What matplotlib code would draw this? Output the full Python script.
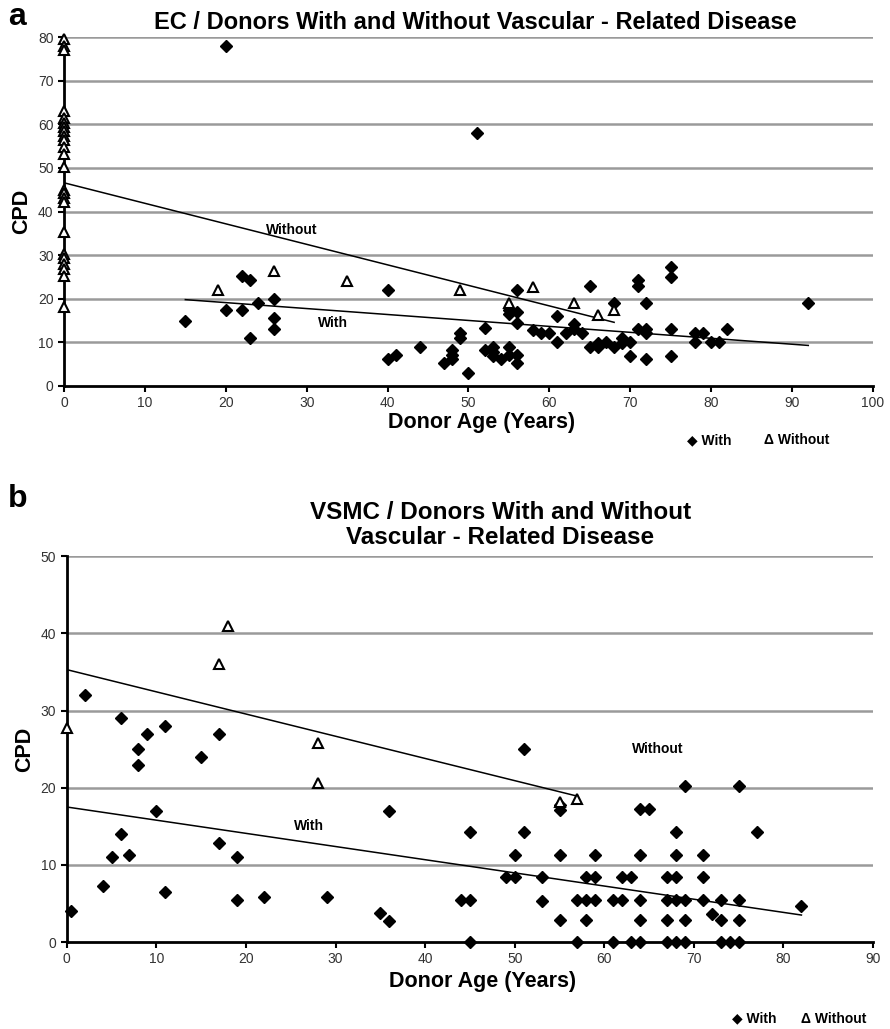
import matplotlib.pyplot as plt

plt.rcParams['font.family'] = ['Liberation Sans', 'DejaVu Sans']

# --- EC cells: donors with vascular-related disease ---
ec_with_age = [15, 20, 20, 22, 22, 23, 23, 24, 26, 26, 26,
               40, 40, 41, 44, 47, 48, 48, 48, 49, 49, 50, 51, 52, 52,
               53, 53, 53, 54, 55, 55, 55, 55, 56, 56, 56, 56, 56,
               58, 59, 60, 61, 61, 62, 63, 63, 64, 65, 65, 66, 66, 67,
               68, 68, 69, 69, 70, 70, 71, 71, 71, 72, 72, 72, 72,
               75, 75, 75, 75, 78, 78, 79, 80, 81, 82, 92]
ec_with_cpd = [15, 78, 17.4, 25.2, 17.4, 24.2, 11, 19, 19.9, 15.7, 13,
               22, 6.1, 7, 9, 5.2, 8.3, 7.1, 6.1, 12.1, 10.9, 3, 58, 13.3, 8.2,
               9, 7.9, 6.8, 6.1, 17.4, 16.6, 9, 7.1, 22, 17, 14.5, 7.1, 5.2,
               12.8, 12.1, 12.1, 16, 10, 12.1, 14.3, 13.1, 12.1, 23, 9, 9.8, 9, 10,
               19, 9, 11, 9.9, 10, 6.9, 24.4, 23, 13, 19, 13, 12.1, 6.1,
               27.2, 25.1, 13, 6.9, 12.2, 10, 12.2, 10, 10, 13, 19]

# --- EC cells: donors without vascular-related disease ---
ec_without_age = [0, 0, 0, 0, 0, 0, 0, 0, 0, 0, 0, 0,
                  0, 0, 0, 0, 0, 0, 0, 0, 0, 0, 0, 0,
                  19, 26, 35, 49, 55, 58, 63, 66, 68]
ec_without_cpd = [79.5, 78, 77, 63, 61.5, 60.2, 59.5, 58.5, 57.4, 56.3, 54.8, 53.3,
                  50.2, 45, 44.2, 43.2, 42.1, 35.2, 30.2, 29.4, 27.9, 26.9, 25.2, 18.2,
                  22, 26.3, 24.1, 21.9, 19, 22.6, 19.1, 16.3, 17.5]

# trend lines (end points)
ec_fit_with_age = [15, 92]
ec_fit_with_cpd = [19.8, 9.3]
ec_fit_without_age = [0, 68]
ec_fit_without_cpd = [46.6, 14.6]

# --- VSMC: donors with vascular-related disease ---
vsmc_with_age = [0.5, 2, 4, 5, 6, 6, 7, 8, 8, 9, 10, 11, 11, 15, 17, 17, 19, 19, 22,
                 29, 35, 36, 36, 44, 45, 45, 45, 49, 50, 50, 51, 51, 53, 53,
                 55, 55, 55, 55, 57, 57, 58, 58, 58, 59, 59, 59, 61, 61,
                 62, 62, 63, 63, 64, 64, 64, 64, 64, 65, 67, 67, 67, 67,
                 68, 68, 68, 68, 68, 69, 69, 69, 69, 71, 71, 71, 72,
                 73, 73, 73, 74, 75, 75, 75, 75, 77, 82]
vsmc_with_cpd = [4, 32, 7.3, 11, 29, 14, 11.3, 25, 23, 27, 17, 28, 6.5, 24, 27, 12.8, 11, 5.5, 5.8,
                 5.8, 3.8, 17, 2.7, 5.4, 5.4, 14.2, 0, 8.4, 11.3, 8.4, 25, 14.2, 8.4, 5.3,
                 17.7, 17.1, 11.3, 2.8, 5.4, 0, 8.4, 5.4, 2.8, 11.3, 8.4, 5.4, 5.4, 0,
                 8.4, 5.4, 8.4, 0, 17.2, 11.3, 5.4, 2.8, 0, 17.2, 8.4, 5.4, 2.8, 0,
                 14.2, 11.3, 8.4, 5.4, 0, 20.2, 5.4, 2.8, 0, 11.3, 8.4, 5.4, 3.6,
                 5.4, 2.8, 0, 0, 20.2, 5.4, 2.8, 0, 14.2, 4.7]

# --- VSMC: donors without vascular-related disease ---
vsmc_without_age = [0, 17, 18, 28, 28, 55, 57]
vsmc_without_cpd = [27.8, 36, 41, 25.8, 20.6, 18.2, 18.5]

vsmc_fit_with_age = [0, 82]
vsmc_fit_with_cpd = [17.5, 3.5]
vsmc_fit_without_age = [0, 57]
vsmc_fit_without_cpd = [35.3, 18.9]

fig = plt.figure(figsize=(8.9, 10.29), dpi=100)


def draw_panel(ax, w_age, w_cpd, wo_age, wo_cpd, fw_age, fw_cpd, fwo_age, fwo_cpd,
               xmax, xstep, ymax, ystep):
    for y in range(ystep, ymax + 1, ystep):
        ax.axhline(y, color='#9a9a9a', lw=1.8, zorder=0)
    ax.plot(fwo_age, fwo_cpd, color='black', lw=1.1, zorder=2)
    ax.plot(fw_age, fw_cpd, color='black', lw=1.1, zorder=2)
    ax.plot(w_age, w_cpd, 'D', color='black', ms=6, zorder=3, clip_on=False)
    ax.plot(wo_age, wo_cpd, '^', mfc='white', mec='black', mew=1.5, ms=6.5,
            zorder=4, clip_on=False)
    ax.set_xlim(0, xmax)
    ax.set_ylim(0, ymax)
    ax.set_xticks(range(0, xmax + 1, xstep))
    ax.set_yticks(range(0, ymax + 1, ystep))
    for s in ['top', 'right']:
        ax.spines[s].set_visible(False)
    for s in ['left', 'bottom']:
        ax.spines[s].set_linewidth(2)
    ax.tick_params(axis='both', direction='out', length=4, width=1.5,
                   labelsize=10, labelcolor='#333333')
    ax.set_ylabel('CPD', fontsize=15.5, fontweight='bold', labelpad=4)
    ax.set_xlabel('Donor Age (Years)', fontsize=15.5, fontweight='bold')
    ax.xaxis.set_label_coords(0.516, -0.075)


# panel a: EC
ax1 = fig.add_axes([0.0719, 0.6249, 0.909, 0.339])
draw_panel(ax1, ec_with_age, ec_with_cpd, ec_without_age, ec_without_cpd,
           ec_fit_with_age, ec_fit_with_cpd, ec_fit_without_age, ec_fit_without_cpd,
           100, 10, 80, 10)
ax1.text(28.2, 35.8, 'Without', fontsize=10, fontweight='bold', ha='center', va='center')
ax1.text(33.3, 14.4, 'With', fontsize=10, fontweight='bold', ha='center', va='center')
fig.text(0.534, 0.9786, 'EC / Donors With and Without Vascular - Related Disease',
         fontsize=17, fontweight='bold', ha='center', va='center')

# panel b: VSMC
ax2 = fig.add_axes([0.075, 0.0845, 0.906, 0.375])
draw_panel(ax2, vsmc_with_age, vsmc_with_cpd, vsmc_without_age, vsmc_without_cpd,
           vsmc_fit_with_age, vsmc_fit_with_cpd, vsmc_fit_without_age, vsmc_fit_without_cpd,
           90, 10, 50, 10)
ax2.text(66, 25, 'Without', fontsize=10, fontweight='bold', ha='center', va='center')
ax2.text(27, 15, 'With', fontsize=10, fontweight='bold', ha='center', va='center')
fig.text(0.562, 0.4898, 'VSMC / Donors With and Without\nVascular - Related Disease',
         fontsize=17.5, fontweight='bold', ha='center', va='center', linespacing=1.15)

# panel letters
fig.text(0.009, 0.983, 'a', fontsize=23, fontweight='bold', ha='left', va='center')
fig.text(0.009, 0.515, 'b', fontsize=23, fontweight='bold', ha='left', va='center')

# legend text
legend_rows = [(0.572, 0.772, 0.858), (0.010, 0.822, 0.900)]
for ypos, x_with, x_without in legend_rows:
    fig.text(x_with, ypos, '\u25c6 With', fontsize=10, fontweight='bold', ha='left', va='center')
    fig.text(x_without, ypos, '\u0394 Without', fontsize=10, fontweight='bold', ha='left', va='center')

fig.savefig('out.png', dpi=100)
